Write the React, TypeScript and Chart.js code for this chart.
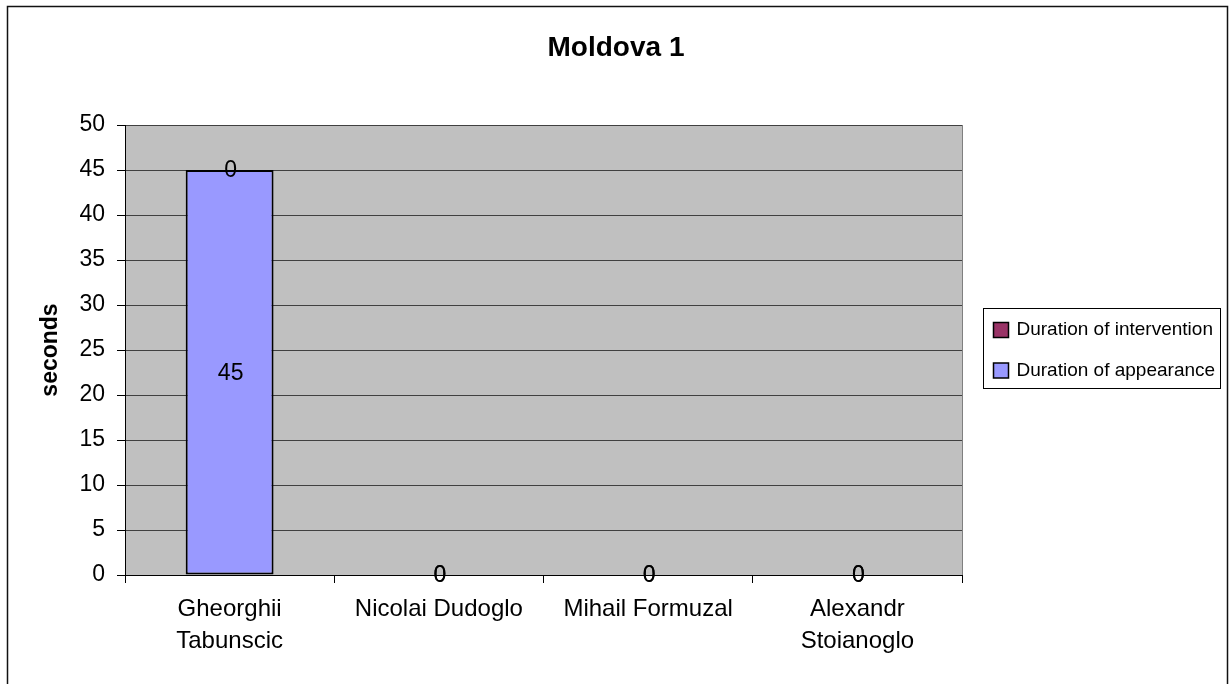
import React, { useEffect, useRef } from 'react';
import { Chart, registerables } from 'chart.js';

Chart.register(...registerables);

const FONT = '"Liberation Sans", Arial, Helvetica, sans-serif';

const chartTitle = 'Moldova 1';
const yAxisTitle = 'seconds';
const categories: (string | string[])[] = [
  ['Gheorghii', 'Tabunscic'],
  'Nicolai Dudoglo',
  'Mihail Formuzal',
  ['Alexandr', 'Stoianoglo'],
];
const appearanceLabel = 'Duration of appearance';
const interventionLabel = 'Duration of intervention';
const appearanceValues = [45, 0, 0, 0];
const interventionValues = [0, 0, 0, 0];
const yMin = 0;
const yMax = 50;
const yStep = 5;

const appearanceColor = '#9999FF';
const interventionColor = '#993366';

const decorPlugin = {
  id: 'decor',
  beforeDraw(chart: any) {
    const { ctx, chartArea: a } = chart;
    ctx.save();
    ctx.fillStyle = '#ffffff';
    ctx.fillRect(0, 0, chart.width, chart.height);
    ctx.fillStyle = '#C0C0C0';
    ctx.fillRect(a.left, a.top, a.right - a.left, a.bottom - a.top);
    ctx.strokeStyle = '#808080';
    ctx.lineWidth = 1;
    ctx.beginPath();
    ctx.moveTo(a.right + 0.5, a.top);
    ctx.lineTo(a.right + 0.5, a.bottom);
    ctx.stroke();
    // outer frame
    ctx.strokeStyle = '#111';
    ctx.lineWidth = 1.5;
    ctx.strokeRect(7.5, 6.5, 1220, 760);
    // title
    ctx.fillStyle = '#000';
    ctx.font = `bold 28px ${FONT}`;
    ctx.textAlign = 'center';
    ctx.textBaseline = 'middle';
    ctx.fillText(chartTitle, 616, 48);
    ctx.restore();
  },
  afterDatasetsDraw(chart: any) {
    const { ctx } = chart;
    ctx.save();
    ctx.fillStyle = '#000';
    ctx.font = `23px ${FONT}`;
    ctx.textAlign = 'center';
    ctx.textBaseline = 'middle';
    chart.data.datasets.forEach((ds: any, di: number) => {
      const meta = chart.getDatasetMeta(di);
      meta.data.forEach((el: any, i: number) => {
        const v = ds.data[i];
        const y = v > 0 ? (el.y + el.base) / 2 : el.y;
        ctx.fillText(String(v), el.x + 1, y + 1);
      });
    });
    ctx.restore();
  },
  afterDraw(chart: any) {
    const { ctx, chartArea: a } = chart;
    const boxW = 237;
    const boxH = 80;
    const boxX = 983.5;
    const boxY = Math.round((a.top + a.bottom) / 2 - boxH / 2 - 2) + 0.5;
    ctx.save();
    ctx.fillStyle = '#fff';
    ctx.fillRect(boxX, boxY, boxW, boxH);
    ctx.strokeStyle = '#000';
    ctx.lineWidth = 1;
    ctx.strokeRect(boxX, boxY, boxW, boxH);
    const items = [...chart.data.datasets].reverse();
    ctx.font = `19px ${FONT}`;
    ctx.textAlign = 'left';
    ctx.textBaseline = 'middle';
    items.forEach((ds: any, k: number) => {
      const cy = boxY + 21.5 + k * 40.5;
      ctx.fillStyle = ds.backgroundColor;
      ctx.fillRect(boxX + 10, cy - 7.5, 15, 15);
      ctx.strokeStyle = '#000';
      ctx.lineWidth = 1.5;
      ctx.strokeRect(boxX + 10, cy - 7.5, 15, 15);
      ctx.fillStyle = '#000';
      ctx.fillText(ds.label, boxX + 33, cy, boxW - 38);
    });
    ctx.restore();
  },
};

export default function App() {
  const ref = useRef<HTMLCanvasElement | null>(null);

  useEffect(() => {
    if (!ref.current) return;
    Chart.defaults.font.family = FONT;
    Chart.defaults.color = '#000';
    const chart = new Chart(ref.current, {
      type: 'bar',
      data: {
        labels: categories,
        datasets: [
          {
            label: appearanceLabel,
            data: appearanceValues,
            backgroundColor: appearanceColor,
            borderColor: '#000',
            borderWidth: 2,
            borderSkipped: false,
            barPercentage: 0.42,
            categoryPercentage: 1,
          },
          {
            label: interventionLabel,
            data: interventionValues,
            backgroundColor: interventionColor,
            borderColor: '#000',
            borderWidth: 2,
            borderSkipped: false,
            barPercentage: 0.42,
            categoryPercentage: 1,
          },
        ],
      },
      options: {
        responsive: false,
        animation: false,
        events: [],
        layout: { padding: { left: 0, top: 125, right: 269, bottom: 9 } },
        plugins: {
          legend: { display: false },
          title: { display: false },
          tooltip: { enabled: false },
        },
        scales: {
          x: {
            stacked: true,
            offset: true,
            grid: {
              display: true,
              offset: true,
              drawOnChartArea: false,
              drawTicks: true,
              tickLength: 8,
              tickColor: '#000',
              tickWidth: 1,
            },
            border: { display: true, color: '#000', width: 1 },
            ticks: {
              font: { size: 24, lineHeight: 1.32 },
              color: '#000',
              padding: 11,
              maxRotation: 0,
              autoSkip: false,
            },
            afterFit(scale: any) {
              scale.height = 100;
            },
          },
          y: {
            stacked: true,
            min: yMin,
            max: yMax,
            grid: {
              color: '#404040',
              lineWidth: 1,
              drawTicks: true,
              tickLength: 8,
              tickColor: '#000',
            },
            border: { display: true, color: '#000', width: 1 },
            ticks: {
              stepSize: yStep,
              font: { size: 23 },
              color: '#000',
              padding: 12,
            },
            title: {
              display: true,
              text: yAxisTitle,
              font: { size: 23, weight: 'bold' },
              color: '#000',
              padding: { top: 37, bottom: 0 },
            },
            afterFit(scale: any) {
              scale.width = 125;
            },
          },
        },
      },
      plugins: [decorPlugin],
    } as any);
    return () => chart.destroy();
  }, []);

  return (
    <div style={{ position: 'fixed', left: 0, top: 0, width: 1231, height: 684, background: '#fff' }}>
      <canvas ref={ref} width={1231} height={684} style={{ display: 'block' }} />
    </div>
  );
}
